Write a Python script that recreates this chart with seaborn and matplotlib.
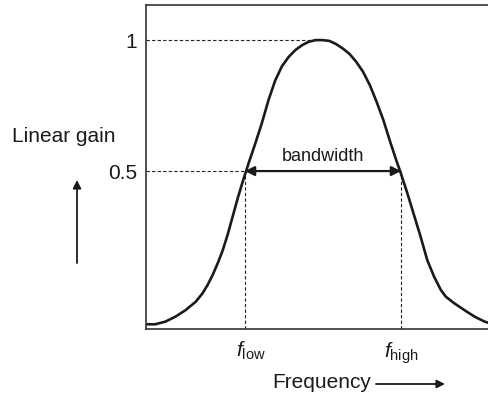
import matplotlib
matplotlib.use("Agg")
import matplotlib.pyplot as plt
import matplotlib.transforms as mtrans
import seaborn as sns
import pandas as pd

# Data (arbitrary frequency units, linear gain)
freq = [0.007, 0.09, 0.19, 0.29, 0.39, 0.49, 0.557, 0.607, 0.657, 0.707, 0.757,
        0.807, 0.857, 0.907, 0.957, 0.987, 1.01, 1.073, 1.14, 1.207, 1.273, 1.34,
        1.407, 1.473, 1.54, 1.607, 1.673, 1.74, 1.807, 1.873, 1.94, 2.007, 2.073,
        2.14, 2.207, 2.273, 2.34, 2.407, 2.473, 2.505, 2.573, 2.64, 2.707, 2.773,
        2.84, 2.907, 2.957, 3.04, 3.14, 3.24, 3.34, 3.413]
gain = [-0.085, -0.085, -0.075, -0.056, -0.031, 0.001, 0.033, 0.065, 0.103, 0.148,
        0.198, 0.26, 0.33, 0.40, 0.464, 0.5, 0.528, 0.60, 0.68, 0.77, 0.845,
        0.90, 0.936, 0.962, 0.981, 0.994, 1.0, 1.0, 0.997, 0.985, 0.968, 0.947,
        0.917, 0.879, 0.828, 0.765, 0.695, 0.612, 0.535, 0.5, 0.42, 0.335, 0.25,
        0.160, 0.097, 0.046, 0.020, -0.005, -0.031, -0.056, -0.075, -0.084]
f_low = 0.975
f_high = 2.515
f_peak = 1.74
ytick_vals = [0.5, 1]
ytick_labels = ["0.5", "1"]
xtick_labels = [r"$f_{\mathrm{low}}$", r"$f_{\mathrm{high}}$"]

sns.set_style("white")
plt.rcParams["font.family"] = ["Liberation Sans", "DejaVu Sans"]
plt.rcParams["mathtext.fontset"] = "custom"
plt.rcParams["mathtext.rm"] = "Liberation Sans"
plt.rcParams["mathtext.it"] = "Liberation Sans:italic"

fig = plt.figure(figsize=(4.88, 3.98), dpi=100)
ax = fig.add_axes([146 / 488, (398 - 329) / 398, 1 - 146 / 488 + 0.01, (329 - 5) / 398])

df = pd.DataFrame({"freq": freq, "gain": gain})
sns.lineplot(data=df, x="freq", y="gain", ax=ax, color="#1a1a1a", lw=1.9,
             sort=False, solid_joinstyle="round", solid_capstyle="round")

ax.set_xlim(0, 3.42)
ax.set_ylim(-0.103, 1.134)

dash = dict(color="#222222", lw=0.8, ls=(0, (3, 2)))
ax.plot([0, f_peak], [1, 1], **dash)
ax.plot([0, f_low], [0.5, 0.5], **dash)
ax.plot([f_low, f_low], [-0.103, 0.5], **dash)
ax.plot([f_high, f_high], [-0.103, 0.5], **dash)

ax.annotate("", xy=(f_low, 0.5), xytext=(f_high, 0.5),
            arrowprops=dict(arrowstyle="<|-|>", color="#1a1a1a", lw=1.6,
                            mutation_scale=14, shrinkA=0, shrinkB=0))
ax.text((f_low + f_high) / 2, 0.525, "bandwidth", ha="center", va="bottom",
        fontsize=13, color="#1a1a1a")

ax.set_yticks(ytick_vals)
ax.set_yticklabels(ytick_labels, fontsize=15)
ax.set_xticks([f_low, f_high])
ax.set_xticklabels(xtick_labels, fontsize=15)
ax.tick_params(axis="y", length=0, pad=6.5, colors="#1a1a1a")
ax.tick_params(axis="x", length=0, pad=8, colors="#1a1a1a")
lab0 = ax.get_xticklabels()[0]
lab0.set_transform(lab0.get_transform() +
                   mtrans.ScaledTranslation(0.06, 0, fig.dpi_scale_trans))
ax.set_xlabel("")
ax.set_ylabel("")

for s in ["left", "top", "bottom"]:
    ax.spines[s].set_color("#333333")
    ax.spines[s].set_linewidth(1.2)
ax.spines["right"].set_visible(False)

fig.text(12 / 488, 1 - 137 / 398, "Linear gain", fontsize=15, ha="left",
         va="center", color="#1a1a1a")
fig.text(272 / 488, 1 - 383 / 398, "Frequency", fontsize=15, ha="left",
         va="center", color="#1a1a1a")
arrow_kw = dict(arrowstyle="-|>", color="#1a1a1a", lw=1.3, mutation_scale=12,
                shrinkA=0, shrinkB=0)
fig.add_artist(matplotlib.patches.FancyArrowPatch(
    (376 / 488, 1 - 384 / 398), (445 / 488, 1 - 384 / 398),
    transform=fig.transFigure, **arrow_kw))
fig.add_artist(matplotlib.patches.FancyArrowPatch(
    (77 / 488, 1 - 263 / 398), (77 / 488, 1 - 180 / 398),
    transform=fig.transFigure, **arrow_kw))

fig.savefig("out.png", dpi=100)
